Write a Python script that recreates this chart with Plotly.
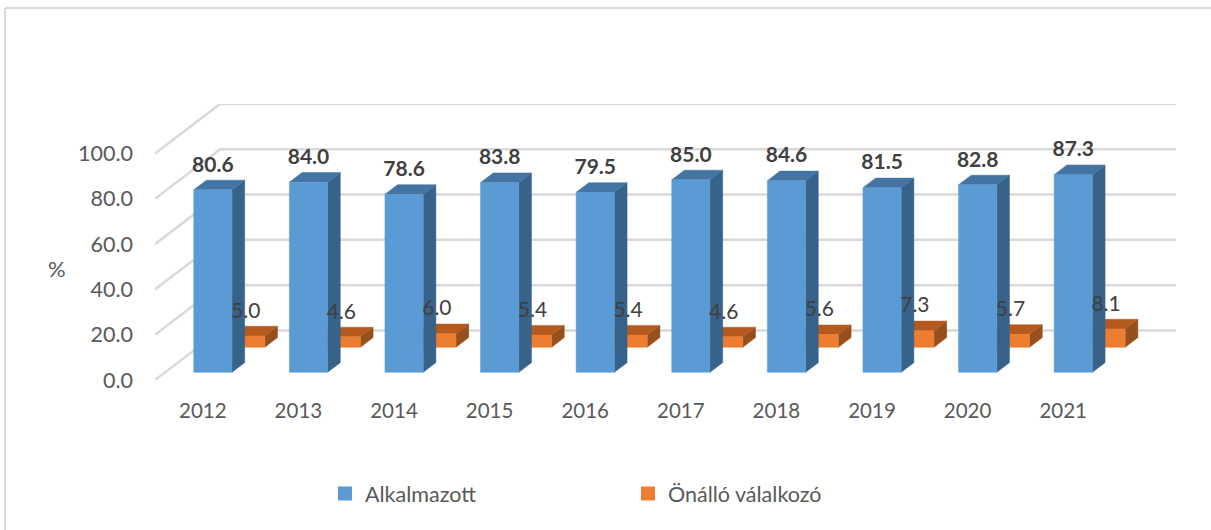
import plotly.graph_objects as go

years = ["2012","2013","2014","2015","2016","2017","2018","2019","2020","2021"]
alkalmazott = [80.6,84.0,78.6,83.8,79.5,85.0,84.6,81.5,82.8,87.3]
onallo = [5.0,4.6,6.0,5.4,5.4,4.6,5.6,7.3,5.7,8.1]
y_ticks = [0,20,40,60,80,100]
names = ["Alkalmazott","Önálló válalkozó"]

W, H = 1211, 530
FONT = "Lato"
GRID = "#D9D9D9"
# oblique projection: depth 0..1 shifts along the side wall
DX, DY = 0.68, 21.9
BAR_W = 0.40
LABEL_UP = 10.4

def proj(x, d, v):
    return x + d*DX, v + d*DY

def faces(values, d0, d1):
    front = ([], []); top = ([], []); side = ([], [])
    for i, v in enumerate(values):
        l, r = i - BAR_W/2, i + BAR_W/2
        polys = [
            (front, [(l,d0,0),(r,d0,0),(r,d0,v),(l,d0,v),(l,d0,0)]),
            (top, [(l,d0,v),(r,d0,v),(r,d1,v),(l,d1,v),(l,d0,v)]),
            (side, [(r,d0,0),(r,d1,0),(r,d1,v),(r,d0,v),(r,d0,0)]),
        ]
        for tgt, pts in polys:
            for p in pts:
                a, b = proj(*p)
                tgt[0].append(a); tgt[1].append(b)
            tgt[0].append(None); tgt[1].append(None)
    return front, top, side

fig = go.Figure()

# walls: side-wall and back-wall grid lines
gx, gy = [], []
for t in y_ticks:
    for d, xx in [(0, -0.5), (1, -0.5), (1, 9.5)]:
        a, b = proj(xx, d, t)
        gx.append(a); gy.append(b)
    gx.append(None); gy.append(None)
fig.add_trace(go.Scatter(x=gx, y=gy, mode="lines", line=dict(color=GRID, width=2.5),
                         showlegend=False, hoverinfo="skip"))

def add_bar(values, d0, d1, cols):
    f, t, s = faces(values, d0, d1)
    for (xs, ys), c in zip((s, t, f), cols):
        fig.add_trace(go.Scatter(x=xs, y=ys, mode="lines", fill="toself", fillcolor=c,
                                 line=dict(color=c, width=0.5), showlegend=False, hoverinfo="skip"))

ORANGE = ("#96501E", "#B55A1F", "#ED7D31")
BLUE = ("#37628A", "#4374A3", "#5B9BD5")
B0, B1, O0, O1 = 0.155, 0.35, 0.66, 0.855
add_bar(onallo, O0, O1, ORANGE)
add_bar(alkalmazott, B0, B1, BLUE)

# value labels
for vals, d0, bold in [(onallo, O0, False), (alkalmazott, B0, True)]:
    xs, ys = [], []
    for i, v in enumerate(vals):
        a, b = proj(i, d0, v + LABEL_UP)
        xs.append(a); ys.append(b)
    txt = [f"{v:.1f}" for v in vals]
    if bold:
        txt = [f"<b>{s}</b>" for s in txt]
    fig.add_trace(go.Scatter(x=xs, y=ys, mode="text", text=txt, textposition="middle center",
                             textfont=dict(family=FONT, size=21, color="#404040"),
                             showlegend=False, hoverinfo="skip"))

# legend entries
fig.add_trace(go.Scatter(x=[None], y=[None], mode="markers", name=names[0], legend="legend",
                         marker=dict(symbol="square", size=14, color=BLUE[2])))
fig.add_trace(go.Scatter(x=[None], y=[None], mode="markers", name=names[1], legend="legend2",
                         marker=dict(symbol="square", size=14, color=ORANGE[2])))

leg = dict(orientation="h", yanchor="middle", xanchor="left",
           font=dict(family=FONT, size=21.5, color="#595959"), bgcolor="rgba(0,0,0,0)",
           yref="paper", xref="paper")

l, r, t, b = 155, 35, 104, 150
px = W - l - r
py = H - t - b
def xp(p): return (p - l)/px
def yp(p): return (H - b - p)/py

fig.update_layout(
    width=W, height=H, margin=dict(l=l, r=r, t=t, b=b),
    paper_bgcolor="white", plot_bgcolor="white",
    font=dict(family=FONT, size=20, color="#595959"),
    xaxis=dict(range=[-0.5, 9.5+DX], tickmode="array", tickvals=list(range(10)), ticktext=years,
               tickfont=dict(size=20.5),
               showgrid=False, zeroline=False, showline=False, ticks="", ticklabelstandoff=16),
    yaxis=dict(range=[0, 100+DY], tickmode="array", tickvals=y_ticks,
               ticktext=[f"{v:.1f}" for v in y_ticks], tickfont=dict(size=21.5),
               showgrid=False, zeroline=False, showline=False, ticks="", ticklabelstandoff=21),
    legend=dict(leg, x=xp(325), y=yp(493.5)),
    legend2=dict(leg, x=xp(628), y=yp(493.5)),
    annotations=[dict(text="%", xref="paper", yref="paper", x=xp(57), y=yp(268),
                      xanchor="center", yanchor="middle",
                      showarrow=False, font=dict(family=FONT, size=22, color="#595959"))],
    shapes=[dict(type="line", xref="paper", yref="paper", x0=xp(5), x1=xp(1211), y0=yp(8), y1=yp(8),
                 line=dict(color=GRID, width=2), layer="below"),
            dict(type="line", xref="paper", yref="paper", x0=xp(5), x1=xp(5), y0=yp(8), y1=yp(530),
                 line=dict(color=GRID, width=2), layer="below")],
)
fig.write_html("out.html", config={"displayModeBar": False},
               post_script="document.body.style.margin='0';document.body.style.overflow='hidden';")
